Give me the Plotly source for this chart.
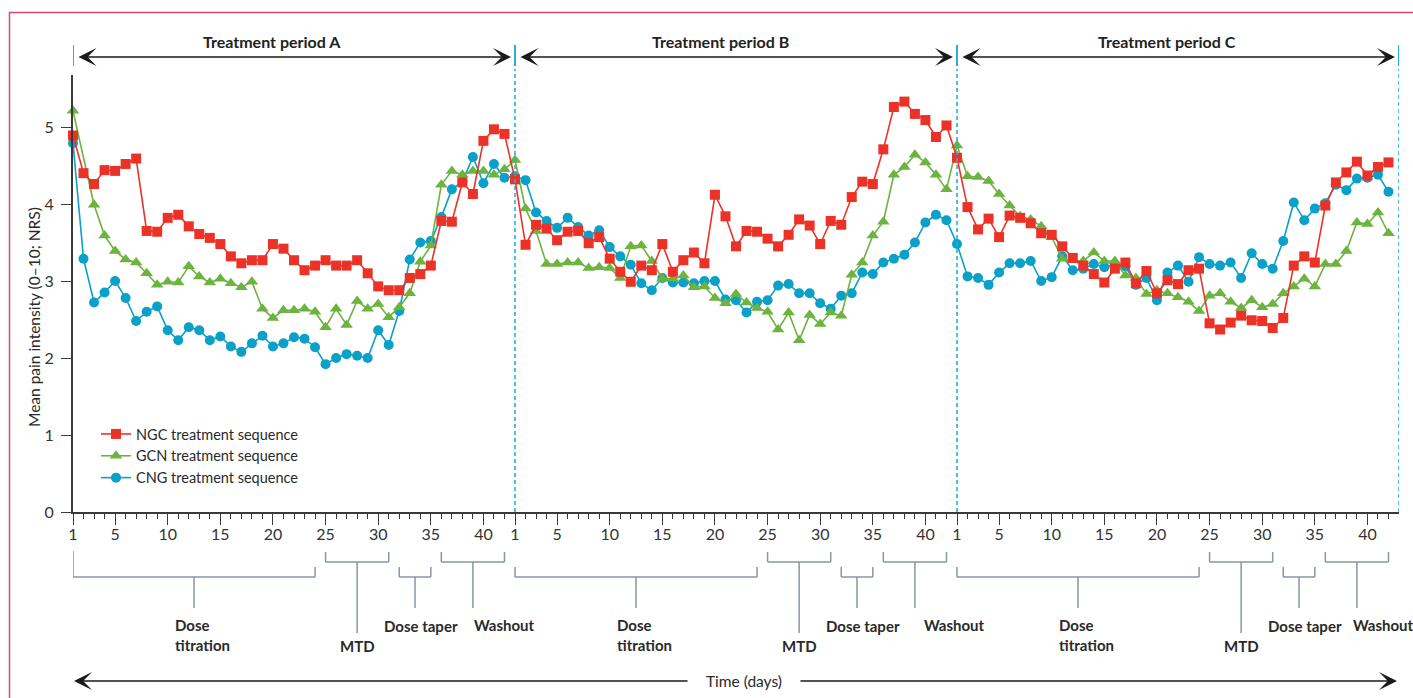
import plotly.graph_objects as go

# ---------------- data ----------------
days_per_period = 42
period_names = ["Treatment period A", "Treatment period B", "Treatment period C"]
tick_days = [1, 5, 10, 15, 20, 25, 30, 35, 40]

ngc = [4.89, 4.40, 4.26, 4.44, 4.43, 4.52, 4.59, 3.65, 3.64, 3.82, 3.86, 3.71, 3.61, 3.56, 3.48, 3.32, 3.23, 3.27, 3.27, 3.48, 3.42,
       3.27, 3.14, 3.20, 3.27, 3.20, 3.20, 3.27, 3.10, 2.93, 2.88, 2.88, 3.04, 3.09, 3.20, 3.78, 3.77, 4.28, 4.13, 4.82, 4.97, 4.91,
       4.32, 3.47, 3.73, 3.68, 3.53, 3.64, 3.65, 3.49, 3.57, 3.29, 3.12, 2.99, 3.20, 3.14, 3.48, 3.12, 3.27, 3.37, 3.23, 4.12, 3.84,
       3.45, 3.65, 3.64, 3.55, 3.45, 3.60, 3.80, 3.72, 3.48, 3.78, 3.73, 4.09, 4.29, 4.26, 4.71, 5.26, 5.33, 5.17, 5.09, 4.87, 5.02,
       4.60, 3.96, 3.67, 3.81, 3.57, 3.85, 3.82, 3.75, 3.62, 3.60, 3.45, 3.30, 3.20, 3.09, 2.98, 3.16, 3.24, 2.97, 3.13, 2.84, 3.01,
       2.96, 3.14, 3.16, 2.45, 2.37, 2.46, 2.55, 2.49, 2.48, 2.39, 2.52, 3.20, 3.32, 3.24, 3.98, 4.28, 4.41, 4.55, 4.37, 4.48, 4.54]

gcn = [5.21, None, 3.99, 3.59, 3.39, 3.28, 3.24, 3.10, 2.95, 2.99, 2.98, 3.19, 3.06, 2.98, 3.03, 2.97, 2.92, 2.99, 2.64, 2.52, 2.62,
       2.62, 2.64, 2.60, 2.40, 2.64, 2.43, 2.74, 2.64, 2.70, 2.53, 2.66, 2.84, 3.25, 3.46, 4.25, 4.43, 4.38, 4.43, 4.43, 4.38, 4.45,
       4.57, 3.94, 3.65, 3.22, 3.22, 3.24, 3.24, 3.17, 3.18, 3.17, 3.04, 3.45, 3.46, 3.26, 3.03, 3.03, 3.07, 2.92, 2.93, 2.78, 2.71,
       2.83, 2.72, 2.65, 2.60, 2.37, 2.59, 2.23, 2.56, 2.44, 2.59, 2.55, 3.08, 3.24, 3.59, 3.77, 4.38, 4.48, 4.64, 4.54, 4.38, 4.19,
       4.76, 4.36, 4.35, 4.30, 4.13, 3.98, 3.84, 3.80, 3.71, 3.57, 3.29, 3.27, 3.26, 3.37, 3.26, 3.26, 3.07, 3.04, 2.83, 2.88, 2.84,
       2.79, 2.73, 2.61, 2.81, 2.84, 2.73, 2.65, 2.75, 2.66, 2.70, 2.84, 2.93, 3.03, 2.93, 3.22, 3.22, 3.39, 3.76, 3.74, 3.89, 3.62]

cng = [4.79, 3.29, 2.72, 2.85, 3.00, 2.78, 2.48, 2.60, 2.67, 2.36, 2.23, 2.40, 2.36, 2.23, 2.28, 2.15, 2.08, 2.19, 2.29, 2.15, 2.19,
       2.27, 2.25, 2.14, 1.92, 2.00, 2.05, 2.03, 2.00, 2.36, 2.17, 2.61, 3.28, 3.50, 3.52, 3.83, 4.19, 4.29, 4.61, 4.27, 4.52, 4.34,
       4.36, 4.31, 3.89, 3.78, 3.69, 3.82, 3.70, 3.59, 3.66, 3.44, 3.32, 3.21, 2.97, 2.88, 3.04, 2.98, 2.98, 2.97, 3.00, 3.00, 2.76,
       2.75, 2.59, 2.73, 2.75, 2.94, 2.96, 2.84, 2.84, 2.71, 2.64, 2.81, 2.84, 3.11, 3.09, 3.24, 3.29, 3.34, 3.50, 3.76, 3.86, 3.79,
       3.48, 3.06, 3.04, 2.95, 3.11, 3.23, 3.23, 3.26, 3.00, 3.05, 3.32, 3.14, 3.16, 3.22, 3.18, 3.21, 3.19, 2.95, 3.04, 2.75, 3.11,
       3.20, 2.99, 3.31, 3.22, 3.20, 3.24, 3.04, 3.36, 3.22, 3.16, 3.52, 4.02, 3.79, 3.94, 4.01, 4.25, 4.18, 4.33, 4.34, 4.38, 4.16]

series_names = ["NGC treatment sequence", "GCN treatment sequence", "CNG treatment sequence"]

# phases within each period: (label, first day, last day)
phases = [("Dose titration", 1, 24), ("MTD", 25, 31), ("Dose taper", 32, 35), ("Washout", 36, 42)]

# ---------------- styling / geometry ----------------
RED, GREEN, BLUE = "#ec3226", "#6cb33f", "#0aa0c8"
CYAN = "#27aedd"
GREYBLUE = "#8797a3"
DARK = "#333333"
FONT = "Lato"
W, H = 1413, 698
ML, MR, MT, MB = 73, 14, 75, 186
n_days = days_per_period * len(period_names)
x_all = list(range(1, n_days + 1))
XMAX = n_days + 1
PW = W - ML - MR
PH = H - MT - MB
PXPD = PW / (XMAX - 1)
YMAX = PH / ((H - MB - 127) / 5.0)


def gx(px):
    return 1 + (px - ML) / PXPD


def py(p):
    return (H - MB - p) / PH


fig = go.Figure()

trace_specs = [
    (series_names[2], cng, BLUE, "circle", 10),
    (series_names[1], gcn, GREEN, "triangle-up", 11),
    (series_names[0], ngc, RED, "square", 10),
]
for name, vals, col, sym, sz in trace_specs:
    fig.add_trace(go.Scatter(
        x=x_all, y=vals, name=name, mode="lines+markers", connectgaps=True,
        line=dict(color=col, width=1.6),
        marker=dict(color=col, symbol=sym, size=sz, line=dict(width=0)),
        cliponaxis=False,
    ))

shapes = []
annotations = []

# outer frame
shapes.append(dict(type="rect", xref="paper", yref="paper",
                   x0=(9.5 - ML) / PW, x1=(W + 20 - ML) / PW, y0=py(H + 20), y1=py(12.5),
                   line=dict(color="#d24b6e", width=1.5), fillcolor="rgba(0,0,0,0)", layer="below"))

for p in range(len(period_names) + 1):
    xs = p * days_per_period + 1
    shapes.append(dict(type="line", xref="x", yref="paper", x0=xs, x1=xs, y0=py(66), y1=py(45),
                       line=dict(color=CYAN, width=2)))
    if p > 0:
        shapes.append(dict(type="line", xref="x", yref="paper", x0=xs, x1=xs, y0=0, y1=py(69),
                           line=dict(color=CYAN, width=1.6, dash="4px,3px")))

label_px_x = [272, 720, 1167]
washout_dx = [-0.1, 0.7, -0.6]
for p, pname in enumerate(period_names):
    o = p * days_per_period
    inset = 4 / PXPD
    annotations.append(dict(x=o + days_per_period + 1 - inset,
                            y=py(57), xref="x", yref="paper", ax=o + 1 + inset, ay=0, axref="x", ayref="pixel",
                            text="", showarrow=True, arrowside="end+start", arrowhead=3, startarrowhead=3,
                            arrowsize=2.0, startarrowsize=2.0, arrowwidth=1.5, arrowcolor="#1a1a1a",
                            standoff=0, startstandoff=0))
    annotations.append(dict(x=gx(label_px_x[p]), y=py(42), xref="x", yref="paper", text="<b>" + pname + "</b>",
                            showarrow=False, xanchor="center", yanchor="middle",
                            font=dict(family=FONT, size=16, color="#222")))

    for label, s, e in phases:
        xl, xr = o + s, o + e
        xm = (xl + xr) / 2
        if label in ("MTD", "Washout"):
            hy, top = 562, 552
        else:
            hy, top = 577, 567
        bottom = 633 if label == "MTD" else 608
        ltop = 551 if (p == 0 and label == "Dose titration") else top
        ln = dict(color=GREYBLUE, width=1.5)
        shapes.append(dict(type="line", xref="x", yref="paper", x0=xl, x1=xl, y0=py(hy), y1=py(ltop), line=ln))
        shapes.append(dict(type="line", xref="x", yref="paper", x0=xr, x1=xr, y0=py(hy), y1=py(top), line=ln))
        shapes.append(dict(type="line", xref="x", yref="paper", x0=xl, x1=xr, y0=py(hy), y1=py(hy), line=ln))
        shapes.append(dict(type="line", xref="x", yref="paper", x0=xm, x1=xm, y0=py(bottom), y1=py(hy), line=ln))

        f = dict(family=FONT, size=15, color="#2a2a2a")
        if label == "Dose titration":
            annotations.append(dict(x=xm - 2.0, y=py(635), xref="x", yref="paper", text="<b>Dose<br>titration</b>",
                                    showarrow=False, xanchor="left", yanchor="middle", align="left", font=f))
        elif label == "MTD":
            annotations.append(dict(x=xm, y=py(646), xref="x", yref="paper", text="<b>MTD</b>",
                                    showarrow=False, xanchor="center", yanchor="middle", font=f))
        elif label == "Dose taper":
            annotations.append(dict(x=xm + 0.6, y=py(626), xref="x", yref="paper", text="<b>Dose taper</b>",
                                    showarrow=False, xanchor="center", yanchor="middle", font=f))
        else:
            annotations.append(dict(x=xm + washout_dx[p], y=py(625), xref="x", yref="paper", text="<b>Washout</b>",
                                    showarrow=False, xanchor="left", yanchor="middle", font=f))

# time arrow
annotations.append(dict(x=gx(74), y=py(681), ax=gx(689), ay=0, xref="x", yref="paper", axref="x", ayref="pixel",
                        text="", showarrow=True, arrowhead=3, arrowsize=2.0, arrowwidth=1.5, arrowcolor="#1a1a1a",
                        standoff=0))
annotations.append(dict(x=gx(1397), y=py(681), ax=gx(799), ay=0, xref="x", yref="paper", axref="x", ayref="pixel",
                        text="", showarrow=True, arrowhead=3, arrowsize=2.0, arrowwidth=1.5, arrowcolor="#1a1a1a",
                        standoff=0))
annotations.append(dict(x=gx(744), y=py(681), xref="x", yref="paper", text="Time (days)", showarrow=False,
                        xanchor="center", yanchor="middle", font=dict(family=FONT, size=15.5, color="#2a2a2a")))

annotations.append(dict(x=(34 - ML) / PW, y=py(317), xref="paper", yref="paper",
                        text="Mean pain intensity (0–10; NRS)", textangle=-90, showarrow=False,
                        xanchor="center", yanchor="middle", font=dict(family=FONT, size=15.5, color="#2a2a2a")))

tickvals = [p * days_per_period + d for p in range(len(period_names)) for d in tick_days]
ticktext = [str(d) for p in range(len(period_names)) for d in tick_days]

fig.update_layout(
    width=W, height=H, autosize=False,
    margin=dict(l=ML, r=MR, t=MT, b=MB, pad=0),
    paper_bgcolor="white", plot_bgcolor="white",
    font=dict(family=FONT, size=15, color=DARK),
    shapes=shapes, annotations=annotations,
    showlegend=True,
    legend=dict(x=(96 - ML) / PW, y=py(418), xanchor="left", yanchor="top", traceorder="reversed",
                bgcolor="rgba(0,0,0,0)", font=dict(family=FONT, size=14.5, color="#2a2a2a"),
                itemwidth=30, tracegroupgap=0),
    xaxis=dict(range=[1, XMAX], showgrid=False, zeroline=False, showline=True, linecolor="#3a3a3a", linewidth=1.8,
               ticks="outside", ticklen=11, tickwidth=1.3, tickcolor="#3a3a3a",
               tickmode="array", tickvals=tickvals, ticktext=ticktext, ticklabelstandoff=-4,
               tickfont=dict(family=FONT, size=16, color=DARK),
               minor=dict(tickmode="array", tickvals=x_all, ticks="outside", ticklen=5, tickwidth=1.2,
                          tickcolor="#3a3a3a", showgrid=False)),
    yaxis=dict(range=[0, YMAX], showgrid=False, zeroline=False,
               showline=True, linecolor="#3a3a3a", linewidth=1.8, ticklabelstandoff=4,
               ticks="outside", ticklen=10, tickwidth=1.3, tickcolor="#3a3a3a", dtick=1, tick0=0,
               tickfont=dict(family=FONT, size=16, color=DARK)),
)

fig.write_html("out.html", config={"displayModeBar": False},
               post_script="document.body.style.margin='0px';document.body.style.overflow='hidden';")
